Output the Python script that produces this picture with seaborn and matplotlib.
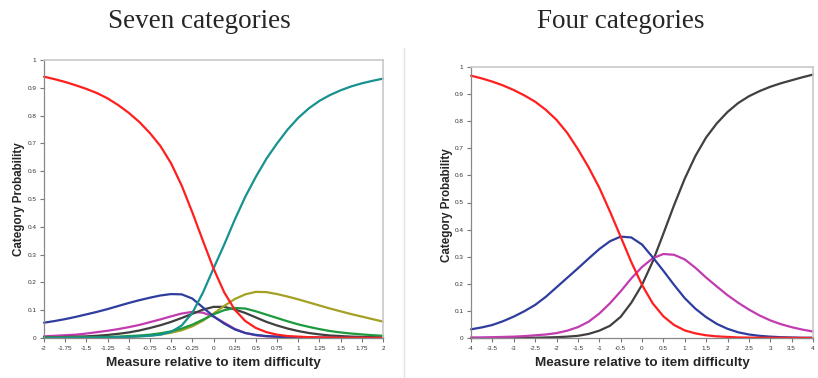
import numpy as np
import pandas as pd
import seaborn as sns
import matplotlib.pyplot as plt
from matplotlib.lines import Line2D

# -----------------------------
# data
# -----------------------------
x_seven = [-2, -1.875, -1.75, -1.625, -1.5, -1.375, -1.25, -1.125, -1, -0.875, -0.75, -0.625,
           -0.5, -0.375, -0.25, -0.125, 0, 0.125, 0.25, 0.375, 0.5, 0.625, 0.75, 0.875,
           1, 1.125, 1.25, 1.375, 1.5, 1.625, 1.75, 1.875, 2]

red7 = [0.940, 0.931, 0.921, 0.909, 0.896, 0.881, 0.862, 0.838, 0.810, 0.777, 0.737, 0.690,
        0.628, 0.548, 0.452, 0.350, 0.250, 0.165, 0.102, 0.061, 0.036, 0.021, 0.012, 0.007,
        0.005, 0.003, 0.002, 0.0015, 0.001, 0.001, 0.001, 0.0005, 0.0005]
blue7 = [0.055, 0.061, 0.068, 0.076, 0.085, 0.094, 0.104, 0.115, 0.126, 0.136, 0.145, 0.153,
         0.158, 0.157, 0.142, 0.110, 0.078, 0.052, 0.031, 0.018, 0.011, 0.007, 0.005, 0.003,
         0.002, 0.0015, 0.001, 0.001, 0.0008, 0.0006, 0.0005, 0.0004, 0.0003]
magenta7 = [0.006, 0.008, 0.010, 0.012, 0.016, 0.021, 0.026, 0.032, 0.039, 0.047, 0.057, 0.067,
            0.078, 0.088, 0.094, 0.091, 0.077, 0.055, 0.033, 0.018, 0.010, 0.006, 0.004, 0.003,
            0.002, 0.0015, 0.001, 0.001, 0.0008, 0.0006, 0.0005, 0.0004, 0.0003]
black7 = [0.003, 0.003, 0.004, 0.005, 0.006, 0.008, 0.011, 0.015, 0.020, 0.027, 0.036, 0.046,
          0.058, 0.072, 0.087, 0.102, 0.112, 0.112, 0.103, 0.090, 0.074, 0.058, 0.045, 0.034,
          0.025, 0.018, 0.013, 0.009, 0.007, 0.005, 0.004, 0.003, 0.002]
green7 = [0.001, 0.001, 0.001, 0.002, 0.002, 0.003, 0.004, 0.005, 0.007, 0.009, 0.012, 0.017,
          0.024, 0.034, 0.048, 0.066, 0.085, 0.100, 0.108, 0.106, 0.096, 0.084, 0.072, 0.060,
          0.049, 0.040, 0.032, 0.025, 0.020, 0.016, 0.013, 0.010, 0.008]
olive7 = [0.0005, 0.0006, 0.0008, 0.001, 0.001, 0.0015, 0.002, 0.003, 0.004, 0.006, 0.009, 0.013,
          0.019, 0.028, 0.042, 0.062, 0.088, 0.115, 0.140, 0.157, 0.166, 0.165, 0.158, 0.149,
          0.139, 0.128, 0.117, 0.106, 0.096, 0.086, 0.077, 0.068, 0.059]
teal7 = [0.0005, 0.0008, 0.001, 0.001, 0.001, 0.0015, 0.002, 0.003, 0.004, 0.006, 0.008, 0.012,
         0.022, 0.045, 0.090, 0.163, 0.250, 0.335, 0.425, 0.508, 0.580, 0.645, 0.700, 0.750,
         0.792, 0.826, 0.853, 0.874, 0.891, 0.905, 0.916, 0.925, 0.933]

x_four = [-4, -3.75, -3.5, -3.25, -3, -2.75, -2.5, -2.25, -2, -1.75, -1.5, -1.25, -1, -0.75,
          -0.5, -0.25, 0, 0.25, 0.5, 0.75, 1, 1.25, 1.5, 1.75, 2, 2.25, 2.5, 2.75, 3, 3.25,
          3.5, 3.75, 4]

red4 = [0.968, 0.958, 0.946, 0.932, 0.915, 0.895, 0.872, 0.842, 0.805, 0.757, 0.697, 0.630,
        0.555, 0.467, 0.374, 0.280, 0.196, 0.128, 0.080, 0.048, 0.028, 0.017, 0.010, 0.006,
        0.004, 0.002, 0.0015, 0.001, 0.0007, 0.0005, 0.0003, 0.0002, 0.0001]
blue4 = [0.032, 0.039, 0.048, 0.062, 0.079, 0.099, 0.122, 0.152, 0.187, 0.222, 0.257, 0.293,
         0.328, 0.357, 0.374, 0.371, 0.345, 0.298, 0.248, 0.196, 0.147, 0.108, 0.077, 0.052,
         0.034, 0.021, 0.013, 0.008, 0.005, 0.003, 0.002, 0.001, 0.001]
magenta4 = [0.002, 0.002, 0.003, 0.004, 0.005, 0.007, 0.010, 0.013, 0.018, 0.027, 0.040, 0.060,
            0.090, 0.128, 0.172, 0.220, 0.262, 0.294, 0.310, 0.307, 0.290, 0.259, 0.223, 0.190,
            0.158, 0.130, 0.105, 0.083, 0.065, 0.051, 0.040, 0.031, 0.024]
black4 = [0.0, 0.0001, 0.0002, 0.0003, 0.0005, 0.0008, 0.001, 0.002, 0.003, 0.005, 0.008, 0.015,
          0.027, 0.045, 0.078, 0.130, 0.196, 0.282, 0.385, 0.490, 0.588, 0.672, 0.740, 0.792,
          0.834, 0.867, 0.892, 0.911, 0.927, 0.940, 0.951, 0.962, 0.972]

xticks7 = [-2, -1.75, -1.5, -1.25, -1, -0.75, -0.5, -0.25, 0, 0.25, 0.5, 0.75, 1, 1.25, 1.5, 1.75, 2]
xticklabels7 = ["-2", "-1.75", "-1.5", "-1.25", "-1", "-0.75", "-0.5", "-0.25", "0",
                "0.25", "0.5", "0.75", "1", "1.25", "1.5", "1.75", "2"]
xticks4 = [-4, -3.5, -3, -2.5, -2, -1.5, -1, -0.5, 0, 0.5, 1, 1.5, 2, 2.5, 3, 3.5, 4]
xticklabels4 = ["-4", "-3.5", "-3", "-2.5", "-2", "-1.5", "-1", "-0.5", "0",
                "0.5", "1", "1.5", "2", "2.5", "3", "3.5", "4"]
yticks = [0, 0.1, 0.2, 0.3, 0.4, 0.5, 0.6, 0.7, 0.8, 0.9, 1]
yticklabels = ["0", "0.1", "0.2", "0.3", "0.4", "0.5", "0.6", "0.7", "0.8", "0.9", "1"]

# -----------------------------
# style
# -----------------------------
sns.set_style("white")
plt.rcParams['font.family'] = ['Liberation Sans', 'DejaVu Sans']

RED = "#ff1f1f"
BLUE = "#2e3d9e"
MAGENTA = "#c23cb0"
BLACK = "#404040"
GREEN = "#1c9a3c"
OLIVE = "#a3a024"
TEAL = "#17928f"

fig = plt.figure(figsize=(8.18, 3.78), dpi=100)
ax1 = fig.add_axes([44 / 818, 1 - 338 / 378, 339 / 818, 278 / 378])
ax2 = fig.add_axes([471 / 818, 1 - 338 / 378, 342 / 818, 271 / 378])

# seven categories: low curves first, red/teal on top like the reference
df7 = pd.DataFrame({"x": x_seven, "blue": blue7, "magenta": magenta7, "black": black7,
                    "green": green7, "olive": olive7, "teal": teal7, "red": red7})
for col, c in [("magenta", MAGENTA), ("black", BLACK), ("olive", OLIVE), ("green", GREEN),
               ("blue", BLUE), ("teal", TEAL), ("red", RED)]:
    sns.lineplot(data=df7, x="x", y=col, ax=ax1, color=c, lw=1.6, clip_on=False,
                 solid_joinstyle="round")

df4 = pd.DataFrame({"x": x_four, "red": red4, "blue": blue4, "magenta": magenta4, "black": black4})
for col, c in [("black", BLACK), ("magenta", MAGENTA), ("blue", BLUE), ("red", RED)]:
    sns.lineplot(data=df4, x="x", y=col, ax=ax2, color=c, lw=1.6, clip_on=False,
                 solid_joinstyle="round")

for ax, xt, xtl, xr in [(ax1, xticks7, xticklabels7, (-2, 2)), (ax2, xticks4, xticklabels4, (-4, 4))]:
    ax.set_xlim(*xr)
    ax.set_ylim(0, 1)
    ax.set_xticks(xt)
    ax.set_xticklabels(xtl)
    ax.set_yticks(yticks)
    ax.set_yticklabels(yticklabels)
    ax.tick_params(axis="both", which="both", direction="out", length=3, width=0.8,
                   color="#777777", labelsize=4.6, labelcolor="#333333", pad=2.5)
    ax.tick_params(left=True, bottom=True)
    for s in ["left", "bottom"]:
        ax.spines[s].set_color("#888888")
        ax.spines[s].set_linewidth(0.9)
    for s in ["top", "right"]:
        ax.spines[s].set_color("#c8c8c8")
        ax.spines[s].set_linewidth(1.2)
    ax.set_xlabel("Measure relative to item difficulty", fontsize=9.7, fontweight="bold")
    ax.set_ylabel("Category Probability", fontsize=8.4, fontweight="bold")

ax1.xaxis.set_label_coords(0.5, -19 / 278)
ax2.xaxis.set_label_coords(0.5, -19 / 271)
ax1.yaxis.set_label_coords(-19 / 339, 0.5)
ax2.yaxis.set_label_coords(-18 / 342, 0.49)

fig.text(199 / 818, 1 - 21 / 378, "Seven categories", ha="center", va="center",
         family="Liberation Serif", fontsize=19.5)
fig.text(621 / 818, 1 - 21 / 378, "Four categories", ha="center", va="center",
         family="Liberation Serif", fontsize=19.5)

# thin separator between the two panels
fig.add_artist(Line2D([404 / 818, 404 / 818], [0, 1 - 48 / 378], color="#e2e2e2", lw=1))

fig.savefig("out.png", dpi=100)
